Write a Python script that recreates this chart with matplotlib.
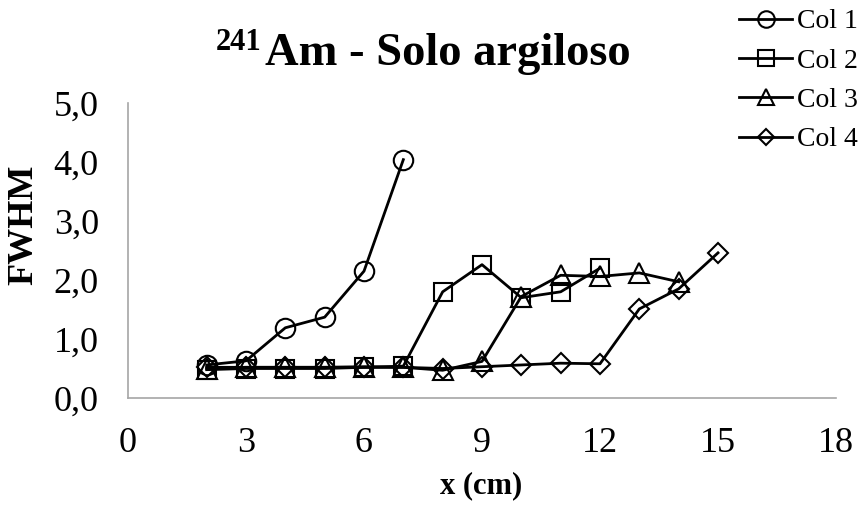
import matplotlib
matplotlib.use("Agg")
import matplotlib.pyplot as plt

plt.rcParams['font.family'] = ['Liberation Serif', 'DejaVu Serif']

# FWHM measured along the column depth (cm)
x_col1 = [2, 3, 4, 5, 6, 7]
fwhm_col1 = [0.56, 0.63, 1.19, 1.37, 2.15, 4.04]

x_col2 = [2, 3, 4, 5, 6, 7, 8, 9, 10, 11, 12]
fwhm_col2 = [0.48, 0.50, 0.50, 0.50, 0.52, 0.54, 1.80, 2.26, 1.70, 1.80, 2.20]

x_col3 = [2, 3, 4, 5, 6, 7, 8, 9, 10, 11, 12, 13, 14]
fwhm_col3 = [0.50, 0.52, 0.52, 0.52, 0.53, 0.52, 0.47, 0.62, 1.72, 2.08, 2.06, 2.12, 1.97]

x_col4 = [2, 3, 4, 5, 6, 7, 8, 9, 10, 11, 12, 13, 14, 15]
fwhm_col4 = [0.52, 0.52, 0.52, 0.52, 0.52, 0.52, 0.50, 0.53, 0.56, 0.59, 0.58, 1.51, 1.85, 2.46]

series_labels = ['Col 1', 'Col 2', 'Col 3', 'Col 4']
x_ticks = [0, 3, 6, 9, 12, 15, 18]
y_ticks = [0.0, 1.0, 2.0, 3.0, 4.0, 5.0]

W, H = 862, 508
fig = plt.figure(figsize=(W / 100, H / 100), dpi=100)
ax = fig.add_axes([128 / W, 1 - 398 / H, (836 - 128) / W, (398 - 103) / H])

styles = [
    dict(marker='o', markersize=14),
    dict(marker='s', markersize=13),
    dict(marker='^', markersize=14),
    dict(marker='D', markersize=10),
]
data = [(x_col1, fwhm_col1), (x_col2, fwhm_col2), (x_col3, fwhm_col3), (x_col4, fwhm_col4)]
for (xs, ys), lab, st in zip(data, series_labels, styles):
    ax.plot(xs, ys, color='black', linewidth=2.0, markerfacecolor='none',
            markeredgecolor='black', markeredgewidth=1.5, label=lab,
            clip_on=False, **st)

ax.set_xlim(0, 18)
ax.set_ylim(0, 5)
ax.set_xticks(x_ticks)
ax.set_xticklabels([str(v) for v in x_ticks])
ax.set_yticks(y_ticks)
ax.set_yticklabels([f"{v:.1f}".replace('.', ',') for v in y_ticks])
ax.tick_params(axis='both', length=0, labelsize=26)
ax.tick_params(axis='y', pad=21)
ax.tick_params(axis='x', pad=21)

for side in ('top', 'right'):
    ax.spines[side].set_visible(False)
for side in ('left', 'bottom'):
    ax.spines[side].set_color('#a6a6a6')
    ax.spines[side].set_linewidth(1.2)

# axis titles
fig.text(481 / W, 1 - 486 / H, 'x (cm)', ha='center', va='center',
         fontsize=22, fontweight='bold')
fig.text(24 / W, 1 - 225 / H, 'FWHM', ha='center', va='center',
         rotation=90, fontsize=26, fontweight='bold')

# chart title with superscripted mass number
fig.text(216 / W, 1 - 28 / H, '241', ha='left', va='top',
         fontsize=22, fontweight='bold')
fig.text(265 / W, 1 - 65 / H, 'Am - Solo argiloso', ha='left', va='baseline',
         fontsize=33.5, fontweight='bold')

fig.legend(loc='upper right', bbox_to_anchor=(858 / W, 1 - 9 / H), frameon=False,
           fontsize=20, handlelength=1.9, handletextpad=0.18, labelspacing=0.5,
           borderpad=0, borderaxespad=0, markerscale=0.85)

fig.savefig('out.png', dpi=100)
